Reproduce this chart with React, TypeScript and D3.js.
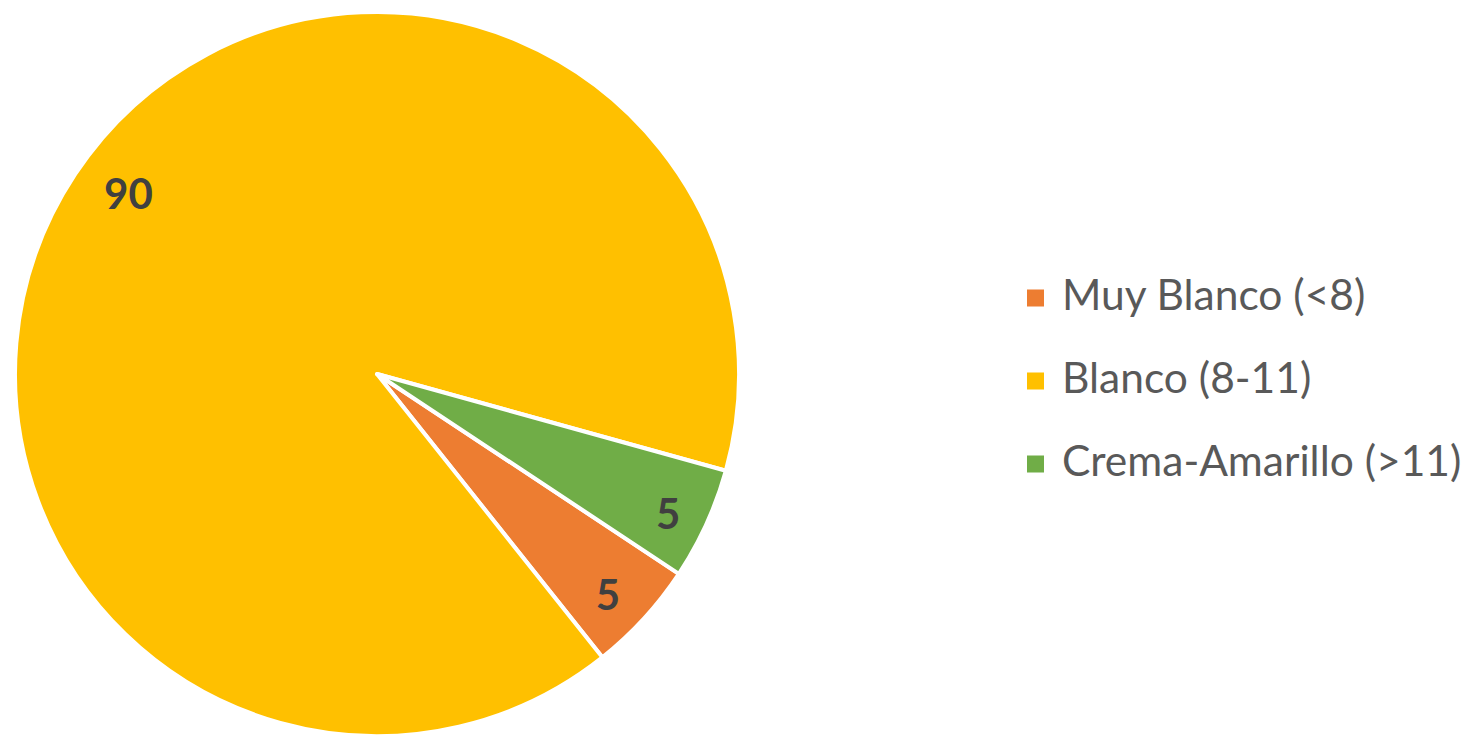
import React from "react";
import * as d3 from "d3";

const categories = ["Muy Blanco (<8)", "Blanco (8-11)", "Crema-Amarillo (>11)"];
const values = [5, 90, 5];
const colors = ["#ED7D31", "#FFC000", "#70AD47"];

const W = 1477;
const H = 738;
const cx = 377;
const cy = 374;
const R = 362;
const START = (123.5 * Math.PI) / 180;

export default function App() {
  const pie = d3
    .pie<number>()
    .sort(null)
    .value((d) => d)
    .startAngle(START)
    .endAngle(START + 2 * Math.PI);
  const arcs = pie(values);
  const arc = d3.arc<d3.PieArcDatum<number>>().innerRadius(0).outerRadius(R);
  // label placement (radius fraction, extra offsets) mimicking Excel best-fit
  const labelFrac = [0.865, 0.82, 0.875];
  const labelShift: [number, number][] = [[0, 8], [-1, -17], [3, 8]];

  return (
    <svg
      width={W}
      height={H}
      style={{ position: "absolute", left: 0, top: 0, background: "#fff" }}
    >
      <g transform={`translate(${cx},${cy})`}>
        {arcs.map((a, i) => (
          <path
            key={i}
            d={arc(a) || ""}
            fill={colors[i]}
            stroke="#fff"
            strokeWidth={4}
            strokeLinejoin="round"
          />
        ))}
        {arcs.map((a, i) => {
          const mid = (a.startAngle + a.endAngle) / 2;
          const r = R * labelFrac[i];
          const x = Math.sin(mid) * r + labelShift[i][0];
          const y = -Math.cos(mid) * r + labelShift[i][1];
          return (
            <text
              key={i}
              x={x}
              y={y}
              textAnchor="middle"
              dominantBaseline="central"
              fontFamily="Lato, 'Open Sans', sans-serif"
              fontWeight="bold"
              fontSize={42}
              fill="#404040"
            >
              {values[i]}
            </text>
          );
        })}
      </g>
      {categories.map((c, i) => {
        const y = 298 + i * 83;
        return (
          <g key={c}>
            <rect x={1027} y={y - 8.5} width={17} height={17} fill={colors[i]} />
            <text
              x={1062}
              y={y + 12}
              fontFamily="Lato, 'Open Sans', sans-serif"
              fontSize={42.5}
              fill="#595959"
            >
              {c}
            </text>
          </g>
        );
      })}
    </svg>
  );
}
